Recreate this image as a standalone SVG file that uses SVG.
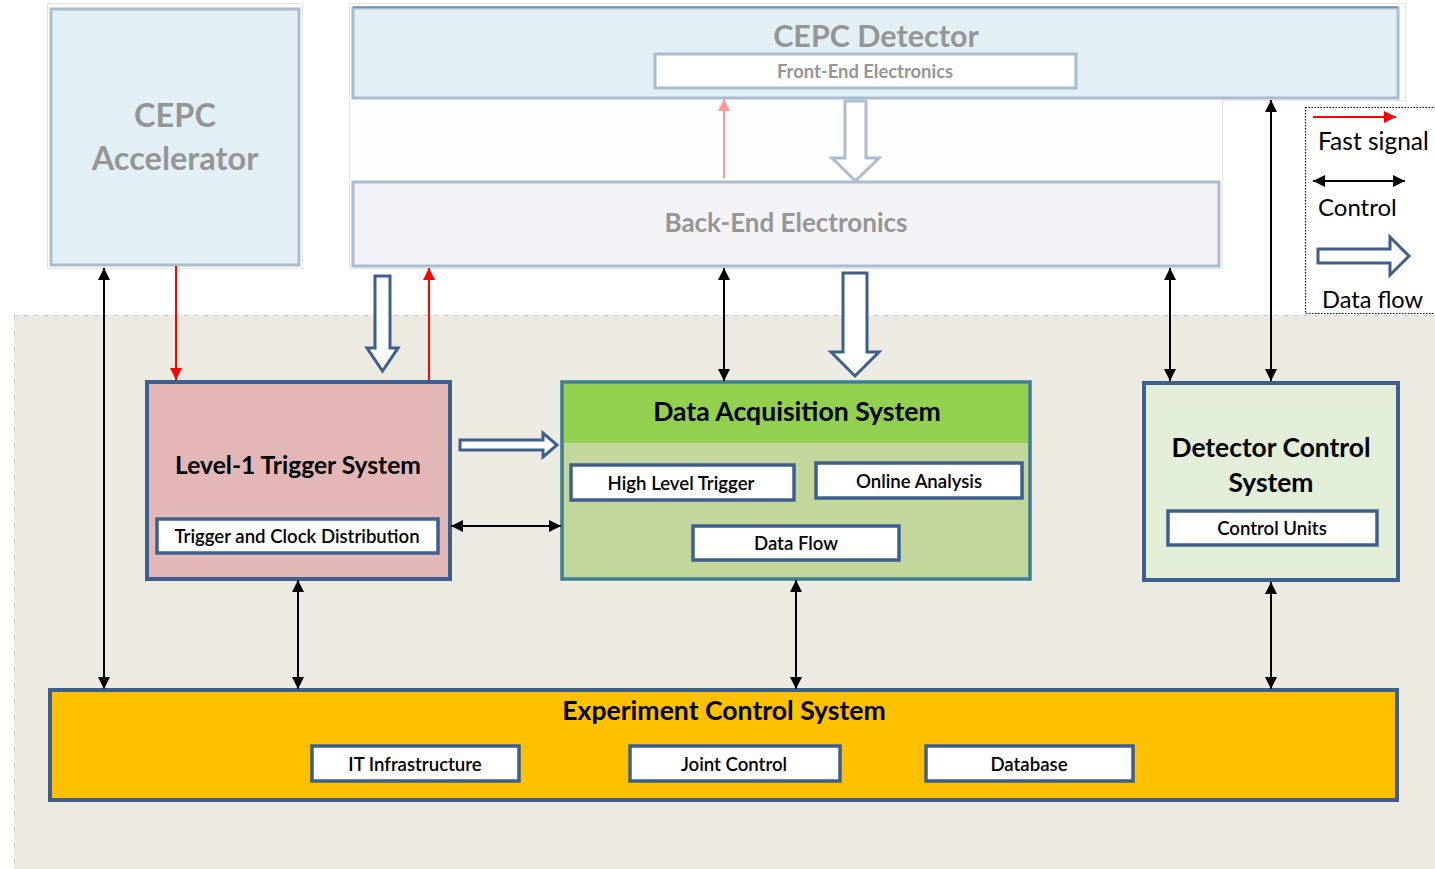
<svg xmlns="http://www.w3.org/2000/svg" width="1435" height="869" viewBox="0 0 1435 869">
<defs>
<style>
text{font-family:Lato,"Liberation Sans",sans-serif;}
.gray{fill:#959595;font-weight:bold;}
.blk{fill:#000;font-weight:bold;}
.sub{fill:#fff;stroke:#3D5F8E;stroke-width:3.5;}
.subl{fill:#fff;stroke:#A9BCD0;stroke-width:3;}
.ctl{stroke:#000;stroke-width:2;fill:none;marker-start:url(#ah);marker-end:url(#ah);}
.fast{stroke:#F00;stroke-width:2;fill:none;marker-end:url(#ar);}
.flow{fill:#fff;stroke:#3D5F8E;stroke-width:3;stroke-linejoin:miter;}
.flowl{fill:#fff;stroke:#A9BCD0;stroke-width:3;}
.st{font-size:18.6px;fill:#000;font-weight:600;text-anchor:middle;}
</style>
<marker id="ah" viewBox="0 0 10 10" refX="10" refY="5" markerWidth="12" markerHeight="12" markerUnits="userSpaceOnUse" orient="auto-start-reverse"><path d="M0,0 L10,5 L0,10 z" fill="#000"/></marker>
<marker id="ar" viewBox="0 0 10 10" refX="10" refY="5" markerWidth="12" markerHeight="12" markerUnits="userSpaceOnUse" orient="auto"><path d="M0,0 L10,5 L0,10 z" fill="#F00"/></marker>
<marker id="arp" viewBox="0 0 10 10" refX="10" refY="5" markerWidth="12" markerHeight="12" markerUnits="userSpaceOnUse" orient="auto"><path d="M0,0 L10,5 L0,10 z" fill="#F99"/></marker>
</defs>
<rect width="1435" height="869" fill="#fff"/>
<g id="background">
<rect x="14" y="315" width="1421" height="554" fill="#EDEBE1"/>
<line x1="14" y1="315.5" x2="1435" y2="315.5" stroke="#C8C8C8" stroke-width="1" stroke-dasharray="4,6"/>
<line x1="14.5" y1="315" x2="14.5" y2="869" stroke="#C8C8C8" stroke-width="1" stroke-dasharray="4,12"/>
<rect x="47.5" y="3.5" width="255" height="265" fill="#fff" stroke="#E4E4E4" stroke-width="1"/>
<path d="M349.5,3.5 H1405.5 V100.5 H1222.5 V268.5 H349.5 Z" fill="#FEFEFE" stroke="#E4E4E4" stroke-width="1"/>
</g>
<g id="accelerator">
<rect x="51" y="9" width="248" height="256" fill="#E2F0F6" stroke="#A9BCD0" stroke-width="3"/>
<text x="175" y="127" class="gray" font-size="32.5" text-anchor="middle">CEPC</text>
<text x="175" y="170" class="gray" font-size="32.5" text-anchor="middle">Accelerator</text>
</g>
<g id="detector">
<rect x="353" y="8" width="1045" height="90" fill="#E2F0F6" stroke="#A9BCD0" stroke-width="3"/>
<line x1="353" y1="7" x2="1398" y2="7" stroke="#4A6A9A" stroke-width="1"/>
<text x="876" y="47" class="gray" font-size="30.5" text-anchor="middle">CEPC Detector</text>
</g>
<g id="front-end">
<rect x="655" y="54" width="421" height="34" class="subl"/>
<text x="865" y="78" class="gray" font-size="18.4" text-anchor="middle">Front-End Electronics</text>
</g>
<g id="back-end">
<rect x="353" y="182" width="866" height="84" fill="#F3F2F7" stroke="#A9BCD0" stroke-width="3"/>
<text x="786" y="232" class="gray" font-size="26" text-anchor="middle">Back-End Electronics</text>
</g>
<g id="l1-trigger">
<rect x="147" y="382" width="303" height="197" fill="#E4B7B7" stroke="#3D5F8E" stroke-width="4"/>
<text x="298" y="474" class="blk" font-size="24.6" text-anchor="middle" font-weight="600">Level-1 Trigger System</text>
<rect x="157" y="519" width="281" height="34" class="sub"/>
<text x="297" y="543" class="st">Trigger and Clock Distribution</text>
</g>
<g id="daq">
<rect x="562" y="382" width="468" height="197" fill="#C3D69B" stroke="#3A7E8F" stroke-width="3.5"/>
<rect x="564" y="384" width="464" height="59" fill="#92D050"/>
<text x="797" y="421" class="blk" font-size="26.6" text-anchor="middle">Data Acquisition System</text>
<rect x="571" y="465" width="223" height="35" class="sub"/>
<text x="681" y="490" class="st">High Level Trigger</text>
<rect x="816" y="463" width="206" height="35" class="sub"/>
<text x="919" y="488" class="st">Online Analysis</text>
<rect x="693" y="526" width="206" height="34" class="sub"/>
<text x="796" y="550" class="st">Data Flow</text>
</g>
<g id="dcs">
<rect x="1144" y="383" width="254" height="197" fill="#E3EED8" stroke="#3D5F8E" stroke-width="4"/>
<text x="1271" y="457" class="blk" font-size="26.4" text-anchor="middle">Detector Control</text>
<text x="1271" y="492" class="blk" font-size="26.4" text-anchor="middle">System</text>
<rect x="1168" y="511" width="209" height="34" class="sub"/>
<text x="1272" y="535" class="st">Control Units</text>
</g>
<g id="ecs">
<rect x="50" y="690" width="1347" height="110" fill="#FFC000" stroke="#3D5F8E" stroke-width="4"/>
<text x="724" y="720" class="blk" font-size="26.6" text-anchor="middle">Experiment Control System</text>
<rect x="312" y="746" width="207" height="35" class="sub"/>
<text x="415" y="771" class="st">IT Infrastructure</text>
<rect x="630" y="746" width="210" height="35" class="sub"/>
<text x="734" y="771" class="st">Joint Control</text>
<rect x="926" y="746" width="207" height="35" class="sub"/>
<text x="1029" y="771" class="st">Database</text>
</g>
<g id="connectors">
<line x1="104" y1="268" x2="104" y2="689" class="ctl"/>
<line x1="176" y1="266" x2="176" y2="380" class="fast"/>
<line x1="429" y1="380" x2="429" y2="268" class="fast"/>
<line x1="724" y1="178" x2="724" y2="99" stroke="#F99" stroke-width="2" marker-end="url(#arp)"/>
<line x1="724" y1="268" x2="724" y2="381" class="ctl"/>
<line x1="1170" y1="268" x2="1170" y2="381" class="ctl"/>
<line x1="1271" y1="100" x2="1271" y2="381" class="ctl"/>
<line x1="298" y1="580" x2="298" y2="689" class="ctl"/>
<line x1="796" y1="580" x2="796" y2="689" class="ctl"/>
<line x1="1271" y1="582" x2="1271" y2="689" class="ctl"/>
<line x1="451" y1="526" x2="561" y2="526" class="ctl"/>
<path d="M845,101 H866 V158 H879 L855.5,181 L832,158 H845 Z" class="flowl"/>
<path d="M375,276 H390 V348 H398 L382.5,371 L367,348 H375 Z" class="flow"/>
<path d="M843,273 H867 V352 H879 L855,376 L831,352 H843 Z" class="flow"/>
<path d="M460,440 H543 V433 L557,445 L543,457 V450 H460 Z" class="flow"/>
</g>
<g id="legend">
<rect x="1305.5" y="107.5" width="135" height="206" fill="none" stroke="#000" stroke-width="1.2" stroke-dasharray="1.5,1.5"/>
<line x1="1313" y1="117" x2="1396" y2="117" class="fast"/>
<text x="1318" y="150" font-size="24.5" fill="#000">Fast signal</text>
<line x1="1313" y1="181" x2="1405" y2="181" class="ctl"/>
<text x="1318" y="216" font-size="24" fill="#000">Control</text>
<path d="M1318,249 H1390 V237 L1409,256 L1390,275 V263 H1318 Z" class="flow"/>
<text x="1322" y="308" font-size="23.6" fill="#000">Data flow</text>
</g>
</svg>
